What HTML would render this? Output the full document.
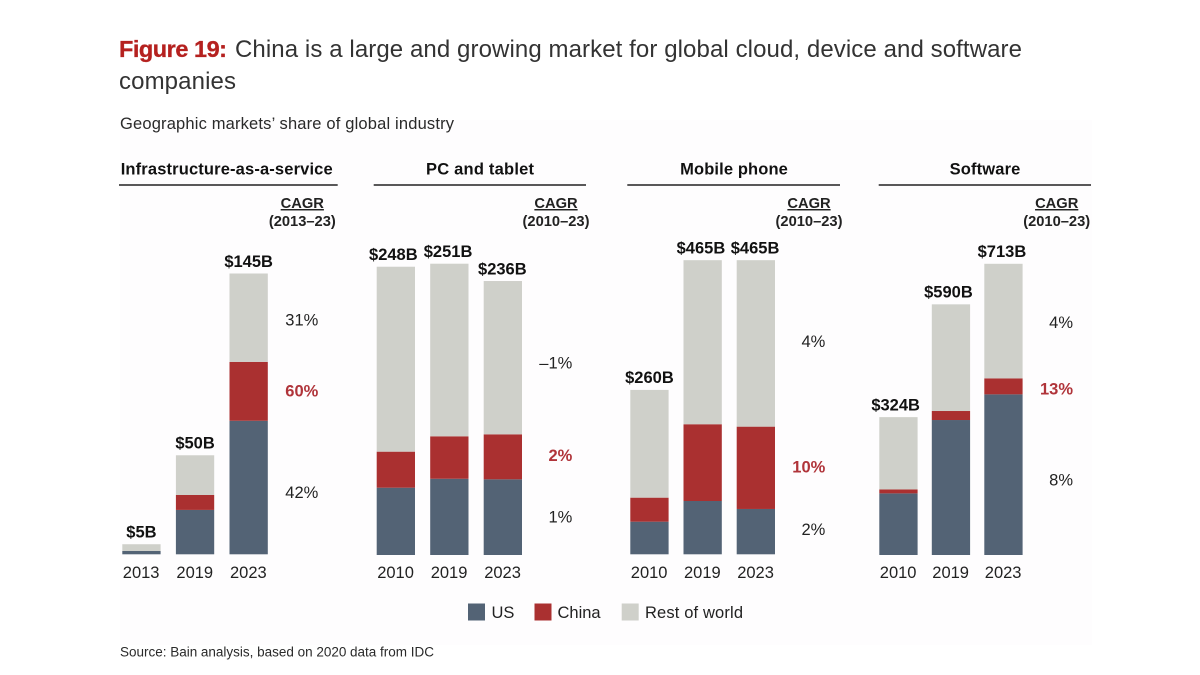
<!DOCTYPE html>
<html lang="en">
<head>
<meta charset="utf-8">
<title>Figure 19: China market share</title>
<style>
html,body{margin:0;padding:0;background:#fff;width:1200px;height:675px;overflow:hidden}
svg{display:block;font-family:"Liberation Sans",Arial,sans-serif}
</style>
</head>
<body>
<svg id="chart" width="1200" height="675" viewBox="0 0 1200 675" xmlns="http://www.w3.org/2000/svg">
  <rect x="0" y="0" width="1200" height="675" fill="#ffffff"/>
  <rect x="120" y="120" width="972" height="525" fill="#fefdfe"/>
  <text x="119" y="57" font-size="23.5" font-weight="bold" fill="#b5211f" stroke="#b5211f" stroke-width="0.3" textLength="108" lengthAdjust="spacing">Figure 19:</text>
  <text x="235" y="57" font-size="24" fill="#333" textLength="787" lengthAdjust="spacing">China is a large and growing market for global cloud, device and software</text>
  <text x="119" y="89" font-size="24" fill="#333" textLength="117" lengthAdjust="spacing">companies</text>
  <text x="120" y="129" font-size="16.5" fill="#2a2a2a" textLength="334" lengthAdjust="spacing">Geographic markets’ share of global industry</text>
  <g id="panels"></g>
  <g>
    <rect x="468" y="603.5" width="17" height="17" fill="#536375"/>
    <text x="491.5" y="618" font-size="16.5" fill="#222">US</text>
    <rect x="534.5" y="603.5" width="17" height="17" fill="#aa3030"/>
    <text x="557.5" y="618" font-size="16.5" fill="#222">China</text>
    <rect x="621.7" y="603.5" width="17" height="17" fill="#cfd0ca"/>
    <text x="645" y="618" font-size="16.5" fill="#222" textLength="98" lengthAdjust="spacing">Rest of world</text>
  </g>
  <text x="120" y="656.5" font-size="13.5" fill="#2a2a2a" textLength="314" lengthAdjust="spacing">Source: Bain analysis, based on 2020 data from IDC</text>
</svg>
<script>
// Infrastructure-as-a-service
const iaasYears = ['2013', '2019', '2023'];
const iaasTotals = ['$5B', '$50B', '$145B'];
const iaasUS = [1.7, 22.9, 68.9];
const iaasChina = [0, 7.7, 30.4];
const iaasRest = [3.5, 20.5, 45.6];
const iaasCagr = ['42%', '60%', '31%'];

// PC and tablet
const pcYears = ['2010', '2019', '2023'];
const pcTotals = ['$248B', '$251B', '$236B'];
const pcUS = [57.9, 65.6, 65.1];
const pcChina = [31, 36.5, 38.7];
const pcRest = [159.1, 148.5, 131.9];
const pcCagr = ['1%', '2%', '–1%'];

// Mobile phone
const mobileYears = ['2010', '2019', '2023'];
const mobileTotals = ['$260B', '$465B', '$465B'];
const mobileUS = [51.6, 84.3, 71.7];
const mobileChina = [38, 121.4, 130.2];
const mobileRest = [170.4, 259.5, 263.3];
const mobileCagr = ['2%', '10%', '4%'];

// Software
const softwareYears = ['2010', '2019', '2023'];
const softwareTotals = ['$324B', '$590B', '$713B'];
const softwareUS = [145, 317.6, 378];
const softwareChina = [9.4, 21.2, 37.6];
const softwareRest = [170, 251, 269.6];
const softwareCagr = ['8%', '13%', '4%'];

const colors = { us: '#536375', china: '#aa3030', rest: '#cfd0ca', redText: '#b0343a', text: '#222222', bold: '#111111' };

const panels = [
  { key: 'iaas', title: 'Infrastructure-as-a-service', titleW: 212, titleX: 226.7, ruleA: 119, ruleB: 337.7,
    period: '(2013–23)', cagrX: 302.3, cagrRight: 318.3, cagrY: [492, 390.7, 319.3],
    left: 122.3, step: 53.6, base: 554.3, domainMax: 145, plotH: 281,
    nudge: [0, 0, 0], years: iaasYears, totals: iaasTotals, us: iaasUS, china: iaasChina, rest: iaasRest, cagr: iaasCagr },
  { key: 'pc', title: 'PC and tablet', titleW: 108, titleX: 480, ruleA: 373.7, ruleB: 586,
    period: '(2010–23)', cagrX: 556, cagrRight: 572.3, cagrY: [516.3, 455, 362.7],
    left: 376.7, step: 53.5, base: 555, domainMax: 250, plotH: 290.6,
    nudge: [-2.5, -1.3, -0.5], years: pcYears, totals: pcTotals, us: pcUS, china: pcChina, rest: pcRest, cagr: pcCagr },
  { key: 'mobile', title: 'Mobile phone', titleW: 107.7, titleX: 734, ruleA: 627.3, ruleB: 840,
    period: '(2010–23)', cagrX: 809, cagrRight: 825.3, cagrY: [529, 466.7, 341],
    left: 630.3, step: 53.2, base: 554.3, domainMax: 465, plotH: 294,
    nudge: [0, -1.7, -0.8], years: mobileYears, totals: mobileTotals, us: mobileUS, china: mobileChina, rest: mobileRest, cagr: mobileCagr },
  { key: 'software', title: 'Software', titleW: 70.7, titleX: 985, ruleA: 878.7, ruleB: 1091,
    period: '(2010–23)', cagrX: 1056.7, cagrRight: 1073, cagrY: [479.3, 388.7, 322],
    left: 879.3, step: 52.5, base: 555, domainMax: 700, plotH: 297.5,
    nudge: [-2.8, -2.5, -1.5], years: softwareYears, totals: softwareTotals, us: softwareUS, china: softwareChina, rest: softwareRest, cagr: softwareCagr }
];

const BAR_W = 38.3;
const NS = 'http://www.w3.org/2000/svg';
const root = document.getElementById('panels');

function make(tag, attrs, parent, content) {
  const el = document.createElementNS(NS, tag);
  for (const k in attrs) el.setAttribute(k, attrs[k]);
  if (content !== undefined) el.textContent = content;
  parent.appendChild(el);
  return el;
}

panels.forEach(function (p) {
  const xScale = function (i) { return p.left + i * p.step; };
  const yScale = function (v) { return p.base - v * p.plotH / p.domainMax; };

  const g = make('g', {}, root);
  
  

  const title = make('text', { x: p.titleX, y: 174.3, 'font-size': 16.5, 'font-weight': 'bold', fill: colors.bold, 'text-anchor': 'middle', textLength: p.titleW, lengthAdjust: 'spacing' }, g, p.title);
  
  

  const rule = make('line', { x1: p.ruleA, x2: p.ruleB, y1: 185, y2: 185, stroke: '#222222', 'stroke-width': 1.5 }, g);
  
  

  const cagrHead = make('text', { x: p.cagrX, y: 208, 'font-size': 14.7, 'font-weight': 'bold', fill: colors.text, 'text-anchor': 'middle', 'text-decoration': 'underline' }, g, 'CAGR');
  
  

  const cagrPeriod = make('text', { x: p.cagrX, y: 226, 'font-size': 14.7, 'font-weight': 'bold', fill: colors.text, 'text-anchor': 'middle' }, g, p.period);
  
  

  p.years.forEach(function (year, i) {
    const x = xScale(i);
    const usTop = yScale(p.us[i]);
    const chinaTop = yScale(p.us[i] + p.china[i]);
    const restTop = yScale(p.us[i] + p.china[i] + p.rest[i]);

    const barUS = make('rect', { x: x, y: usTop, width: BAR_W, height: p.base - usTop, fill: colors.us }, g);
    
    

    const barChina = make('rect', { x: x, y: chinaTop, width: BAR_W, height: usTop - chinaTop, fill: colors.china }, g);
    
    

    const barRest = make('rect', { x: x, y: restTop, width: BAR_W, height: chinaTop - restTop, fill: colors.rest }, g);
    
    

    const total = make('text', { x: x + BAR_W / 2 + p.nudge[i], y: restTop - 6.7, 'font-size': 16.5, 'font-weight': 'bold', fill: colors.bold, 'text-anchor': 'middle' }, g, p.totals[i]);
    
    

    const tick = make('text', { x: x + BAR_W / 2 - 0.3, y: 578, 'font-size': 16.5, fill: colors.text, 'text-anchor': 'middle' }, g, year);
    
    
  });

  p.cagr.forEach(function (value, i) {
    const isChina = i === 1;
    const label = make('text', { x: p.cagrRight, y: p.cagrY[i] + 6, 'font-size': 16.5, 'font-weight': isChina ? 'bold' : 'normal', fill: isChina ? colors.redText : colors.text, 'text-anchor': 'end' }, g, value);
    
    
  });
});
</script>
</body>
</html>
